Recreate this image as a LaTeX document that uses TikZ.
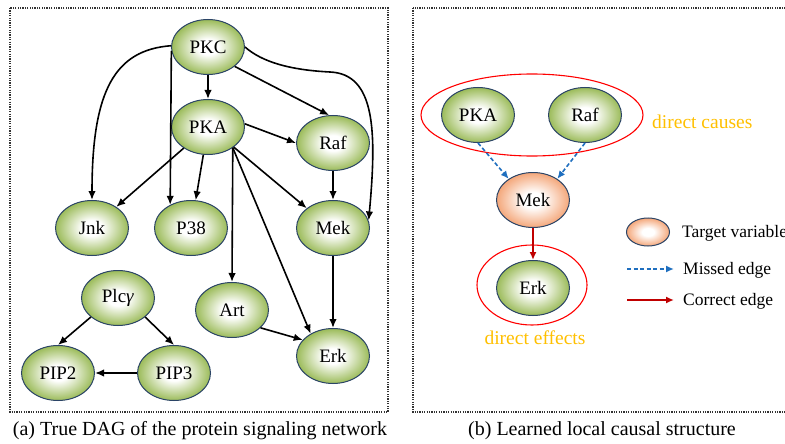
\documentclass[tikz,border=0pt]{standalone}
\usepackage{fontspec}
\setmainfont{Liberation Serif}
\usetikzlibrary{shapes.geometric,arrows.meta}
\definecolor{nodegreen}{HTML}{9BBB59}
\definecolor{nodeorange}{HTML}{F4A77A}
\definecolor{nodeborder}{HTML}{2B4466}
\definecolor{missblue}{HTML}{1F6FBF}
\definecolor{okred}{HTML}{C00000}
\definecolor{gold}{HTML}{FFC000}
\pgfdeclareradialshading{greenball}{\pgfpoint{0bp}{0bp}}{color(0bp)=(white); color(7bp)=(white); color(25bp)=(nodegreen); color(50bp)=(nodegreen)}
\pgfdeclareradialshading{orangeball}{\pgfpoint{0bp}{0bp}}{color(0bp)=(white); color(7bp)=(white); color(25bp)=(nodeorange); color(50bp)=(nodeorange)}
\tikzset{
  gnode/.style={ellipse, draw=nodeborder, line width=1pt, shading=greenball, minimum width=73pt, minimum height=55pt, inner sep=0pt, font=\fontsize{19}{22}\selectfont},
  onode/.style={gnode, shading=orangeball},
  arr/.style={line width=1.6pt, -{Latex[length=9pt,width=7.5pt]}},
  missarr/.style={line width=1.6pt, missblue, dash pattern=on 4pt off 2.5pt, -{Latex[length=8pt,width=7pt]}},
  okarr/.style={line width=1.6pt, okred, -{Latex[length=8pt,width=7pt]}},
  frame/.style={line width=1.3pt, black!80, dash pattern=on 1.2pt off 1.2pt},
  ring/.style={draw=red, line width=1.1pt},
  labtext/.style={font=\fontsize{17.5}{20}\selectfont, anchor=west, inner sep=0pt},
  goldtext/.style={font=\fontsize{19.5}{22}\selectfont, text=gold, inner sep=0pt},
  captext/.style={font=\fontsize{20}{24}\selectfont, inner sep=0pt}
}
\begin{document}
\begin{tikzpicture}[x=1pt,y=1pt]
\useasboundingbox (0,0) rectangle (785,-444);
\fill[white] (0,0) rectangle (785,-444);
% frames
\draw[frame] (10,-8) rectangle (388,-412);
\draw[frame] (413,-8) rectangle (800,-412);
% left nodes
\node[gnode] (PKC) at (208,-47) {PKC};
\node[gnode] (PKA) at (208,-127) {PKA};
\node[gnode] (Raf) at (333,-143) {Raf};
\node[gnode] (Jnk) at (92,-228) {Jnk};
\node[gnode] (P38) at (191,-228) {P38};
\node[gnode] (Mek) at (333,-228) {Mek};
\node[gnode] (Plc) at (118,-298) {Plc\textit{γ}};
\node[gnode] (Art) at (232,-310) {Art};
\node[gnode] (Erk) at (333,-356) {Erk};
\node[gnode] (PIP2) at (58,-373) {PIP2};
\node[gnode] (PIP3) at (174,-373) {PIP3};
\coordinate (bend) at (330,-72);
% left edges
\draw[arr] (PKC) -- (PKA);
\draw[arr] (PKC.-36) -- (Raf.98);
\draw[arr] (PKC.178) .. controls (115,-50) and (92,-90) .. (Jnk.north);
\draw[arr] (PKC.186) -- (P38.132);
\draw[arr] (PKC.east) .. controls (262,-62) and (290,-70) .. (bend) .. controls (375,-74) and (377,-130) .. (Mek.12);
\draw[arr] (PKA.5) -- (Raf.west);
\draw[arr] (PKA) -- (Jnk);
\draw[arr] (PKA) -- (P38);
\draw[arr] (PKA.-40) -- (Art.north);
\draw[arr] (PKA.-40) -- (Erk.135);
\draw[arr] (PKA.-38) -- (Mek.143);
\draw[arr] (Raf) -- (Mek);
\draw[arr] (Mek) -- (Erk);
\draw[arr] (Art.-32) -- (Erk.152);
\draw[arr] (Plc.215) -- (PIP2.north);
\draw[arr] (Plc.-35) -- (PIP3.north);
\draw[arr] (PIP3.west) -- (PIP2.east);
% right panel
\draw[ring] (532,-115) ellipse [x radius=111, y radius=41];
\draw[ring] (532,-285) ellipse [x radius=55, y radius=40];
\node[gnode] (PKAb) at (478,-115) {PKA};
\node[gnode] (Rafb) at (585,-115) {Raf};
\node[onode] (Mekb) at (533,-200) {Mek};
\node[gnode] (Erkb) at (533,-288) {Erk};
\draw[missarr] (PKAb.south) -- (Mekb.139);
\draw[missarr] (Rafb.south) -- (Mekb.41);
\draw[okarr] (Mekb.south) -- (Erkb.north);
\node[goldtext, anchor=west] (causes) at (652,-122) {direct causes};
\node[goldtext] (effects) at (535,-338) {direct effects};
% legend
\node[ellipse, draw=nodeborder, line width=1pt, shading=orangeball, minimum width=43pt, minimum height=28pt, inner sep=0pt] (legT) at (648,-232) {};
\node[labtext] (tT) at (682,-233) {Target variable};
\coordinate (m1) at (627,-269);
\coordinate (m2) at (674,-269);
\draw[missarr] (m1) -- (m2);
\node[labtext] (tM) at (683,-270) {Missed edge};
\coordinate (c1) at (627,-300);
\coordinate (c2) at (674,-300);
\draw[okarr] (c1) -- (c2);
\node[labtext] (tC) at (683,-301) {Correct edge};
% captions
\node[captext] (capa) at (200,-431) {(a) True DAG of the protein signaling network};
\node[captext] (capb) at (602,-431) {(b) Learned local causal structure};
\end{tikzpicture}
\end{document}
